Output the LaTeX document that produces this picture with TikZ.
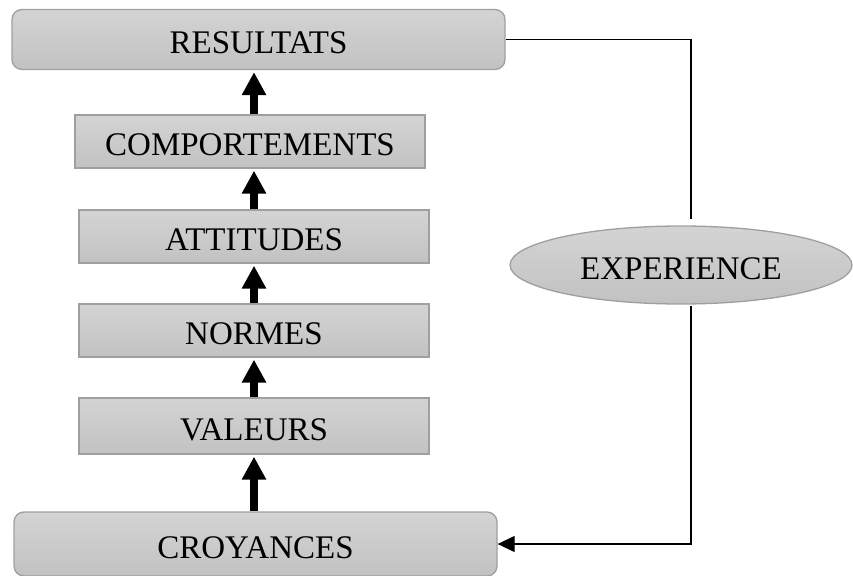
\documentclass[tikz,border=0pt]{standalone}
\usepackage{fontspec}
\setmainfont{Liberation Serif}
\usetikzlibrary{arrows.meta,shapes.geometric}

\begin{document}
\begin{tikzpicture}[x=1pt,y=-1pt,
    box/.style={draw=gray!75,line width=1.3pt,top color=gray!34,bottom color=gray!48,
      font=\fontsize{33}{38}\selectfont,text height=28pt,text depth=0pt,inner sep=0pt},
    roundbox/.style={box,rounded corners=10pt},
    uparrow/.style={line width=8pt,-{Triangle[length=23pt,width=23pt]}},
    link/.style={line width=1.3pt}]
  \useasboundingbox (0,0) rectangle (853,575);
  \node[roundbox,minimum width=493pt,minimum height=60pt] (res) at (258.5,39.5) {RESULTATS};
  \node[box,minimum width=350pt,minimum height=53pt] (comp) at (250,141.5) {COMPORTEMENTS};
  \node[box,minimum width=350pt,minimum height=53pt] (att) at (254,236.5) {ATTITUDES};
  \node[box,minimum width=350pt,minimum height=53pt] (norm) at (254,330.5) {NORMES};
  \node[box,minimum width=350pt,minimum height=56pt] (val) at (254,426) {VALEURS};
  \node[roundbox,minimum width=483pt,minimum height=64pt] (croy) at (255.5,544) {CROYANCES};
  \node[box,ellipse,minimum width=342pt,minimum height=78pt] (exp) at (681,265) {EXPERIENCE};
  % fleches verticales
  \foreach \a/\b in {croy/val,val/norm,norm/att,att/comp,comp/res}{
    \draw[uparrow,shorten >=2pt] (\a.north -| att.center) -- (\b.south -| att.center);
  }
  % boucle de retour
  \coordinate (exptop) at (691,219);
  \coordinate (expbot) at (691,306);
  \draw[link] (res.east) -| (exptop);
  \draw[link,-{Triangle[length=17pt,width=16pt]}] (expbot) |- (croy.east);
\end{tikzpicture}
\end{document}
